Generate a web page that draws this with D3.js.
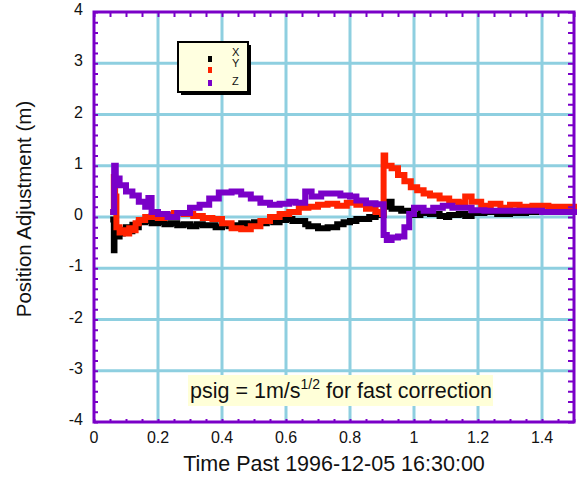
<!DOCTYPE html>
<html><head><meta charset="utf-8">
<script src="https://cdn.jsdelivr.net/npm/d3@7"></script>
<style>body{margin:0;background:#fff;} text{font-family:"Liberation Sans",Arial,sans-serif;}</style>
</head><body>
<svg id="c" width="579" height="479"></svg>
<script>
const xTickLabels = ["0","0.2","0.4","0.6","0.8","1","1.2","1.4"];
const yTickLabels = ["-4","-3","-2","-1","0","1","2","3","4"];
const seriesNames = ["X","Y","Z"];

const tX = [0.060,0.062,0.064,0.068,0.075,0.08,0.09,0.10,0.11,0.12,0.13,0.14,0.16,0.18,0.20,0.22,0.24,0.26,0.28,0.30,0.32,0.34,0.36,0.38,0.40,0.42,0.44,0.46,0.48,0.50,0.52,0.54,0.56,0.58,0.60,0.62,0.64,0.66,0.67,0.70,0.73,0.76,0.78,0.80,0.82,0.84,0.86,0.88,0.905,0.92,0.93,0.96,0.99,1.02,1.05,1.08,1.10,1.11,1.14,1.16,1.18,1.22,1.26,1.30,1.35,1.40,1.45,1.50];
const vX = [-0.05,-0.65,-0.10,-0.30,-0.38,-0.32,-0.25,-0.20,-0.28,-0.15,-0.20,-0.10,-0.08,-0.12,-0.10,-0.14,-0.12,-0.16,-0.14,-0.18,-0.14,-0.16,-0.16,-0.20,-0.14,-0.18,-0.16,-0.12,-0.14,-0.10,-0.12,-0.08,-0.10,-0.06,-0.04,-0.08,-0.08,-0.14,-0.18,-0.22,-0.20,-0.14,-0.10,-0.08,-0.04,-0.04,0.00,0.04,0.20,0.30,0.16,0.12,0.04,0.08,0.06,0.02,0.00,0.04,0.06,0.02,0.08,0.10,0.06,0.08,0.10,0.10,0.10,0.10];

const tY = [0.060,0.062,0.066,0.070,0.08,0.09,0.10,0.11,0.12,0.13,0.14,0.16,0.18,0.20,0.22,0.25,0.28,0.31,0.34,0.37,0.40,0.43,0.46,0.49,0.52,0.55,0.58,0.61,0.64,0.67,0.70,0.73,0.76,0.79,0.82,0.85,0.88,0.90,0.905,0.91,0.93,0.95,0.97,0.99,1.01,1.03,1.05,1.08,1.11,1.14,1.16,1.18,1.21,1.24,1.27,1.30,1.33,1.37,1.42,1.46,1.50];
const vY = [0.10,0.78,0.40,-0.20,-0.30,-0.26,-0.32,-0.22,-0.26,-0.12,-0.06,0.00,0.02,-0.02,0.04,0.08,0.06,0.02,-0.02,-0.04,-0.12,-0.22,-0.24,-0.18,-0.08,0.00,0.06,0.10,0.18,0.20,0.24,0.26,0.22,0.28,0.24,0.16,0.10,0.06,1.20,1.00,0.95,0.82,0.70,0.58,0.52,0.46,0.42,0.36,0.30,0.28,0.40,0.30,0.22,0.26,0.18,0.24,0.20,0.22,0.20,0.20,0.20];

const tZ = [0.060,0.063,0.068,0.08,0.10,0.12,0.14,0.16,0.17,0.18,0.20,0.23,0.26,0.30,0.33,0.36,0.39,0.43,0.46,0.49,0.52,0.55,0.58,0.61,0.63,0.66,0.68,0.71,0.74,0.77,0.80,0.82,0.85,0.88,0.905,0.915,0.93,0.95,0.97,0.985,1.00,1.03,1.06,1.09,1.12,1.15,1.18,1.22,1.26,1.30,1.35,1.40,1.45,1.50];
const vZ = [0.10,1.00,0.75,0.62,0.50,0.42,0.30,0.20,0.37,0.10,0.06,0.00,0.08,0.18,0.24,0.36,0.48,0.50,0.44,0.36,0.28,0.24,0.26,0.30,0.28,0.50,0.40,0.46,0.46,0.42,0.40,0.32,0.27,0.25,-0.35,-0.45,-0.40,-0.38,-0.20,0.06,0.18,0.12,0.18,0.22,0.18,0.18,0.13,0.12,0.12,0.12,0.12,0.10,0.10,0.10];

const svg = d3.select("#c");
const L=94, R=574, T=12, B=422;
const x = d3.scaleLinear().domain([0,1.5]).range([L,R]);
const y = d3.scaleLinear().domain([-4,4]).range([B,T]);
const purple = "#7a00c8", grid="#8ecfe0";

// grid
svg.append("g").selectAll("line").data(d3.range(0.2,1.41,0.2)).join("line")
  .attr("x1",d=>x(d)).attr("x2",d=>x(d)).attr("y1",T).attr("y2",B)
  .attr("stroke",grid).attr("stroke-width",3);
svg.append("g").selectAll("line").data(d3.range(-3,3.1,1)).join("line")
  .attr("y1",d=>y(d)).attr("y2",d=>y(d)).attr("x1",L).attr("x2",R)
  .attr("stroke",grid).attr("stroke-width",3);

// annotation
svg.append("rect").attr("x",188).attr("y",375).attr("width",305).attr("height",31).attr("fill","#ffffd8");
const ann = svg.append("text").attr("x",190).attr("y",398).attr("font-size",21.5).attr("fill","#111");
ann.append("tspan").text("psig = 1m/s");
ann.append("tspan").attr("dy",-9).attr("font-size",14).text("1/2");
ann.append("tspan").attr("dy",9).text(" for fast correction");

// series
const colors = {X:"#000000",Y:"#ff2200",Z:purple};
const data = {X:[tX,vX],Y:[tY,vY],Z:[tZ,vZ]};
const line = d3.line().x(d=>x(d[0])).y(d=>y(d[1])).curve(d3.curveStepAfter);
seriesNames.forEach(n=>{
  const pts = data[n][0].map((t,i)=>[t,data[n][1][i]]);
  svg.append("path").datum(pts).attr("d",line).attr("fill","none")
    .attr("stroke",colors[n]).attr("stroke-width",6).attr("stroke-linejoin","miter").attr("stroke-linecap","square");
});

// axes ticks (minor, inward)
const yMinor = d3.range(-4,4.01,0.2);
const xMinor = d3.range(0,1.501,0.05);
svg.append("g").attr("transform",`translate(${L},0)`)
  .call(d3.axisRight(y).tickValues(yMinor).tickSize(4).tickFormat(""))
  .call(g=>{g.select(".domain").remove(); g.selectAll("line").attr("stroke",purple).attr("stroke-width",2);});
svg.append("g").attr("transform",`translate(${R},0)`)
  .call(d3.axisLeft(y).tickValues(yMinor).tickSize(6).tickFormat(""))
  .call(g=>{g.select(".domain").remove(); g.selectAll("line").attr("stroke",purple).attr("stroke-width",2);});
svg.append("g").attr("transform",`translate(0,${T})`)
  .call(d3.axisBottom(x).tickValues(xMinor).tickSize(5).tickFormat(""))
  .call(g=>{g.select(".domain").remove(); g.selectAll("line").attr("stroke",purple).attr("stroke-width",2);});
svg.append("g").attr("transform",`translate(0,${B})`)
  .call(d3.axisTop(x).tickValues(xMinor).tickSize(3).tickFormat(""))
  .call(g=>{g.select(".domain").remove(); g.selectAll("line").attr("stroke",purple).attr("stroke-width",2);});

// frame
svg.append("rect").attr("x",L).attr("y",T).attr("width",R-L).attr("height",B-T)
  .attr("fill","none").attr("stroke",purple).attr("stroke-width",3);

// tick labels
svg.append("g").selectAll("text").data(yTickLabels).join("text")
  .attr("x",83).attr("y",d=>y(+d)+3).attr("text-anchor","end").attr("font-size",16).attr("fill","#111").text(d=>d);
svg.append("g").selectAll("text").data(xTickLabels).join("text")
  .attr("x",d=>x(+d)).attr("y",443).attr("text-anchor","middle").attr("font-size",16).attr("fill","#111").text(d=>d);

// axis titles
svg.append("text").attr("x",334).attr("y",471).attr("text-anchor","middle").attr("font-size",21.5).attr("fill","#111")
  .text("Time Past 1996-12-05 16:30:00");
svg.append("text").attr("transform","translate(31,209) rotate(-90)").attr("text-anchor","middle").attr("font-size",20.5).attr("fill","#111")
  .text("Position Adjustment (m)");

// legend
svg.append("rect").attr("x",181).attr("y",45).attr("width",70).attr("height",50).attr("fill","#000");
svg.append("rect").attr("x",178).attr("y",42).attr("width",70).attr("height",50).attr("fill","#ffffe0").attr("stroke","#000").attr("stroke-width",2);
const legY = {X:[56,56],Y:[67,67],Z:[80,85]};
seriesNames.forEach(n=>{
  svg.append("rect").attr("x",208).attr("y",legY[n][0]).attr("width",4).attr("height",6).attr("fill",colors[n]);
  svg.append("text").attr("x",232).attr("y",legY[n][1]).attr("font-size",11).attr("fill","#111").text(n);
});
</script>
</body></html>
